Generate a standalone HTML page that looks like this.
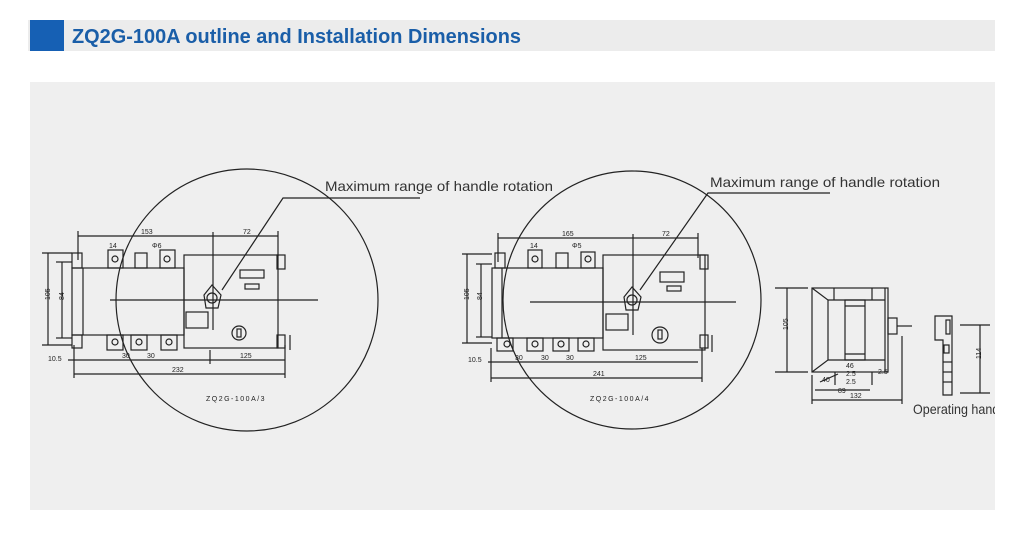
<!DOCTYPE html>
<html><head><meta charset="utf-8"><style>
html,body{margin:0;padding:0;background:#fff;width:1022px;height:536px;overflow:hidden}
svg{display:block}
text{font-family:"Liberation Sans",sans-serif}
</style></head><body>
<svg width="1022" height="536" viewBox="0 0 1022 536" xmlns="http://www.w3.org/2000/svg">
<rect x="28" y="20" width="967" height="31" fill="#ececec"/>
<rect x="30" y="20" width="34" height="31" fill="#1660b4"/>
<text x="72" y="43" font-size="20" font-weight="bold" fill="#1a5ea8" textLength="449" lengthAdjust="spacingAndGlyphs">ZQ2G-100A outline and Installation Dimensions</text>
<rect x="30" y="82" width="965" height="428" fill="#efefef"/>

<g fill="none" stroke="#222" stroke-width="1.2">
<!-- LEFT -->
<circle cx="247" cy="300" r="131"/>
<rect x="72" y="268" width="112" height="67"/>
<line x1="83" y1="268" x2="83" y2="335"/>
<rect x="184" y="255" width="94" height="93"/>
<rect x="108" y="250" width="15" height="18"/><circle cx="115" cy="259" r="3"/>
<rect x="160" y="250" width="15" height="18"/><circle cx="167" cy="259" r="3"/>
<rect x="135" y="253" width="12" height="15"/>
<rect x="72" y="253" width="10" height="15"/><rect x="72" y="335" width="10" height="13"/>
<rect x="107" y="335" width="16" height="15"/><circle cx="115" cy="342" r="3"/>
<rect x="131" y="335" width="16" height="15"/><circle cx="139" cy="342" r="3"/>
<rect x="161" y="335" width="16" height="15"/><circle cx="169" cy="342" r="3"/>
<rect x="240" y="270" width="24" height="8"/><rect x="245" y="284" width="14" height="5"/>
<rect x="186" y="312" width="22" height="16"/>
<circle cx="239" cy="333" r="7"/><rect x="237" y="329" width="4" height="8"/>
<path d="M212 285 L204 295 L206 308 L218 308 L221 295 Z"/><circle cx="212" cy="298" r="5"/>
<rect x="277" y="255" width="8" height="14"/><rect x="277" y="335" width="8" height="13"/>
<line x1="110" y1="300" x2="318" y2="300"/>
<line x1="213" y1="232" x2="213" y2="330"/>
<line x1="78" y1="236" x2="278" y2="236"/><line x1="78" y1="231" x2="78" y2="260"/><line x1="278" y1="231" x2="278" y2="256"/>
<line x1="42" y1="253" x2="72" y2="253"/><line x1="42" y1="345" x2="72" y2="345"/><line x1="48" y1="253" x2="48" y2="345"/>
<line x1="56" y1="262" x2="72" y2="262"/><line x1="56" y1="338" x2="72" y2="338"/><line x1="62" y1="262" x2="62" y2="338"/>
<line x1="68" y1="360" x2="285" y2="360"/><line x1="74" y1="374" x2="285" y2="374"/>
<line x1="74" y1="345" x2="74" y2="378"/><line x1="285" y1="345" x2="285" y2="378"/>
<line x1="210" y1="350" x2="210" y2="364"/><line x1="290" y1="335" x2="290" y2="350"/>
<polyline points="222,290 283,198 420,198"/>
<!-- RIGHT -->
<circle cx="632" cy="300" r="129"/>
<rect x="492" y="268" width="111" height="70"/>
<line x1="502" y1="268" x2="502" y2="338"/>
<rect x="603" y="255" width="102" height="95"/>
<rect x="528" y="250" width="14" height="18"/><circle cx="535" cy="259" r="3"/>
<rect x="581" y="252" width="14" height="16"/><circle cx="588" cy="259" r="3"/>
<rect x="556" y="253" width="12" height="15"/>
<rect x="495" y="253" width="10" height="15"/>
<rect x="497" y="338" width="16" height="13"/><circle cx="507" cy="344" r="3"/>
<rect x="527" y="338" width="16" height="13"/><circle cx="535" cy="344" r="3"/>
<rect x="553" y="338" width="16" height="13"/><circle cx="561" cy="344" r="3"/>
<rect x="578" y="338" width="16" height="13"/><circle cx="586" cy="344" r="3"/>
<rect x="660" y="272" width="24" height="10"/><rect x="667" y="286" width="14" height="5"/>
<rect x="606" y="314" width="22" height="16"/>
<circle cx="660" cy="335" r="8"/><rect x="658" y="330" width="4" height="9"/>
<path d="M632 287 L624 297 L626 310 L638 310 L641 297 Z"/><circle cx="632" cy="300" r="5"/>
<rect x="700" y="255" width="8" height="14"/><rect x="700" y="335" width="8" height="13"/>
<line x1="530" y1="302" x2="736" y2="302"/>
<line x1="633" y1="234" x2="633" y2="335"/>
<line x1="498" y1="238" x2="698" y2="238"/><line x1="498" y1="233" x2="498" y2="262"/><line x1="698" y1="233" x2="698" y2="258"/>
<line x1="462" y1="254" x2="492" y2="254"/><line x1="462" y1="343" x2="492" y2="343"/><line x1="467" y1="254" x2="467" y2="343"/>
<line x1="476" y1="264" x2="492" y2="264"/><line x1="476" y1="337" x2="492" y2="337"/><line x1="481" y1="264" x2="481" y2="337"/>
<line x1="488" y1="362" x2="698" y2="362"/><line x1="491" y1="378" x2="702" y2="378"/>
<line x1="491" y1="348" x2="491" y2="382"/><line x1="702" y1="348" x2="702" y2="382"/>
<line x1="712" y1="335" x2="712" y2="352"/>
<polyline points="640,290 708,193 830,193"/>
<!-- SIDE VIEW -->
<rect x="812" y="288" width="76" height="84"/>
<path d="M812 288 L828 300 L828 360 L812 372"/>
<line x1="828" y1="300" x2="885" y2="300"/><line x1="828" y1="360" x2="885" y2="360"/>
<rect x="845" y="300" width="20" height="60"/><line x1="845" y1="306" x2="865" y2="306"/><line x1="845" y1="354" x2="865" y2="354"/>
<line x1="885" y1="288" x2="885" y2="372"/>
<line x1="834" y1="288" x2="834" y2="300"/><line x1="872" y1="288" x2="872" y2="300"/>
<rect x="888" y="318" width="9" height="16"/><line x1="897" y1="326" x2="912" y2="326"/>
<line x1="775" y1="288" x2="808" y2="288"/><line x1="775" y1="372" x2="808" y2="372"/><line x1="787" y1="288" x2="787" y2="372"/>
<line x1="835" y1="372" x2="835" y2="385"/><line x1="872" y1="372" x2="872" y2="385"/>
<line x1="812" y1="375" x2="812" y2="404"/><line x1="902" y1="336" x2="902" y2="404"/>
<line x1="812" y1="400" x2="902" y2="400"/><line x1="815" y1="390" x2="870" y2="390"/>
<line x1="820" y1="382" x2="838" y2="374"/>
<!-- handle -->
<path d="M935 316 L952 316 L952 395 L943 395 L943 340 L935 340 Z"/>
<rect x="946" y="320" width="4" height="14"/><rect x="944" y="345" width="5" height="8"/>
<line x1="943" y1="362" x2="952" y2="362"/><line x1="943" y1="372" x2="952" y2="372"/><line x1="943" y1="382" x2="952" y2="382"/>
<line x1="960" y1="325" x2="990" y2="325"/><line x1="960" y1="393" x2="990" y2="393"/><line x1="980" y1="325" x2="980" y2="393"/>
</g>

<g font-size="7" fill="#222">
<text x="141" y="234">153</text><text x="243" y="234">72</text><text x="109" y="248">14</text><text x="152" y="248">Φ6</text>
<text x="48" y="361">10.5</text><text x="122" y="358">30</text><text x="147" y="358">30</text><text x="240" y="358">125</text><text x="172" y="372">232</text>
<text x="45" y="305" transform="rotate(-90 45 300)">105</text><text x="60" y="304" transform="rotate(-90 60 300)">84</text>
<text x="562" y="236">165</text><text x="662" y="236">72</text><text x="530" y="248">14</text><text x="572" y="248">Φ5</text>
<text x="468" y="362">10.5</text><text x="515" y="360">30</text><text x="541" y="360">30</text><text x="566" y="360">30</text><text x="635" y="360">125</text><text x="593" y="376">241</text>
<text x="464" y="305" transform="rotate(-90 464 300)">105</text><text x="478" y="304" transform="rotate(-90 478 300)">84</text>
<text x="784" y="334" transform="rotate(-90 784 330)">105</text><text x="977" y="363" transform="rotate(-90 977 359)">114</text>
<text x="846" y="368">46</text><text x="846" y="376">2.5</text><text x="846" y="384">2.5</text><text x="878" y="374">2.5</text>
<text x="822" y="382">40</text><text x="838" y="393">89</text><text x="850" y="398">132</text>
<text x="206" y="401" letter-spacing="1.5">ZQ2G-100A/3</text>
<text x="590" y="401" letter-spacing="1.5">ZQ2G-100A/4</text>
</g>
<g font-size="14" fill="#333">
<text x="325" y="191" textLength="228" lengthAdjust="spacingAndGlyphs">Maximum range of handle rotation</text>
<text x="710" y="187" textLength="230" lengthAdjust="spacingAndGlyphs">Maximum range of handle rotation</text>
<text x="913" y="414" textLength="96" lengthAdjust="spacingAndGlyphs">Operating handle</text>
</g>
<rect x="995" y="60" width="27" height="476" fill="#fff"/>
</svg>
</body></html>
